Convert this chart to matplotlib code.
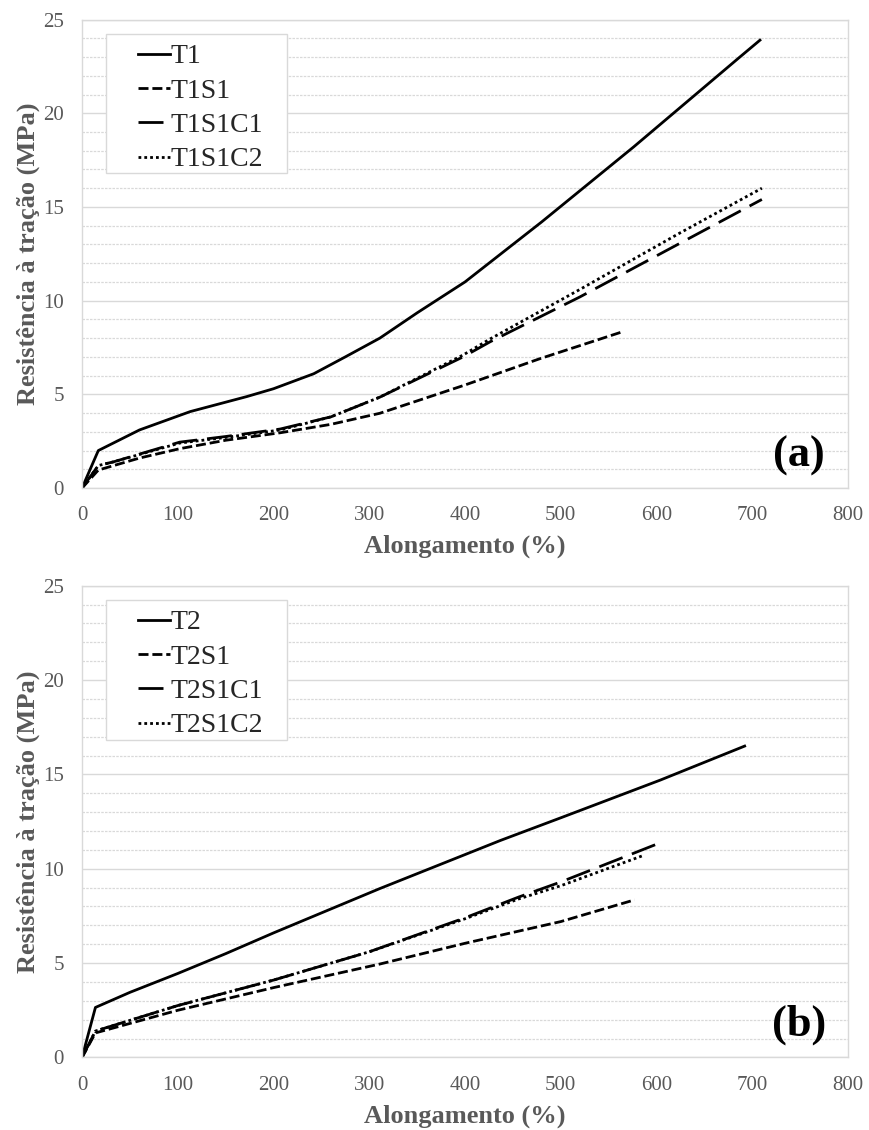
import matplotlib
matplotlib.use("Agg")
import matplotlib.pyplot as plt
from matplotlib.patches import Rectangle
from matplotlib.ticker import MultipleLocator

plt.rcParams['font.family'] = ['Liberation Serif', 'DejaVu Serif']

# ---------- data (a) ----------
t1_x = [0, 17, 60, 113, 172, 200, 242, 275, 311, 350, 400, 430, 480, 576, 687, 708]
t1_y = [0, 2.0, 3.1, 4.08, 4.88, 5.3, 6.1, 7.0, 8.0, 9.35, 11.0, 12.2, 14.2, 18.2, 23.0, 23.9]

t1s1_x = [0, 17, 60, 102, 150, 207, 260, 311, 400, 478, 565]
t1s1_y = [0, 0.96, 1.6, 2.1, 2.55, 2.95, 3.4, 3.99, 5.5, 6.9, 8.35]

t1s1c1_x = [0, 17, 33, 102, 150, 207, 260, 311, 398, 426, 520, 624, 710]
t1s1c1_y = [0, 1.2, 1.4, 2.45, 2.75, 3.15, 3.8, 4.85, 7.0, 7.8, 10.2, 13.05, 15.4]

t1s1c2_x = [0, 17, 33, 102, 150, 207, 260, 311, 398, 426, 520, 624, 710]
t1s1c2_y = [0, 1.2, 1.4, 2.4, 2.7, 3.1, 3.8, 4.85, 7.1, 7.95, 10.6, 13.6, 16.0]

# ---------- data (b) ----------
t2_x = [0, 14, 50, 100, 150, 200, 311, 437, 500, 604, 692]
t2_y = [0, 2.65, 3.45, 4.45, 5.5, 6.6, 8.95, 11.5, 12.7, 14.7, 16.5]

t2s1_x = [0, 14, 100, 200, 311, 400, 500, 577]
t2s1_y = [0, 1.3, 2.5, 3.7, 4.95, 6.05, 7.2, 8.35]

t2s1c1_x = [0, 14, 100, 200, 300, 400, 456, 500, 600]
t2s1c1_y = [0, 1.4, 2.75, 4.1, 5.6, 7.4, 8.5, 9.3, 11.3]

t2s1c2_x = [0, 14, 100, 200, 300, 400, 456, 500, 586]
t2s1c2_y = [0, 1.4, 2.75, 4.1, 5.6, 7.35, 8.4, 9.1, 10.7]

xticks = [0, 100, 200, 300, 400, 500, 600, 700, 800]
yticks = [0, 5, 10, 15, 20, 25]

grey = '#595959'
grid_c = '#d9d9d9'

styles = [
    dict(linestyle='-'),
    dict(linestyle=(0, (3.6, 1.4))),
    dict(linestyle=(0, (9, 3.6))),
    dict(linestyle=(0, (1, 1.1))),
]

fig = plt.figure(figsize=(8.69, 11.30), dpi=100)
ax1 = fig.add_axes([0.0944, 0.5681, 0.8815, 0.4146])
ax2 = fig.add_axes([0.0944, 0.0642, 0.8815, 0.4175])


def draw(ax, series, labels, tag):
    for (x, y), lab, st in zip(series, labels, styles):
        ax.plot(x, y, color='black', lw=2, label=lab, **st)
    ax.set_xlim(0, 800)
    ax.set_ylim(0, 25)
    ax.set_xticks(xticks)
    ax.set_yticks(yticks)
    ax.yaxis.set_minor_locator(MultipleLocator(1))
    ax.grid(which='major', axis='y', color=grid_c, lw=1)
    ax.grid(which='minor', axis='y', color=grid_c, lw=0.9, linestyle=(0, (2, 1)))
    ax.set_axisbelow(True)
    for s in ax.spines.values():
        s.set_color(grid_c)
        s.set_linewidth(1)
    ax.tick_params(which='both', length=0, labelsize=15, colors=grey)
    ax.tick_params(axis='y', pad=13)
    ax.tick_params(axis='x', pad=13)
    ax.set_xlabel('Alongamento (%)', fontsize=19, fontweight='bold', color=grey, labelpad=7)
    ax.set_ylabel('Resistência à tração (MPa)', fontsize=19, fontweight='bold', color=grey, labelpad=2)
    ax.text(0.936, 0.069, tag, transform=ax.transAxes, fontsize=32, fontweight='bold',
            ha='center', va='center')
    ax.add_patch(Rectangle((0.031, 0.672), 0.237, 0.297, transform=ax.transAxes,
                           facecolor='white', edgecolor=grid_c, lw=1, zorder=3))
    leg = ax.legend(loc='upper left', bbox_to_anchor=(0.058, 0.972), frameon=False,
                    fontsize=20, handlelength=1.15, handletextpad=0.05,
                    labelspacing=0.32, borderaxespad=0)
    leg.set_zorder(4)
    for t in leg.get_texts():
        t.set_color('#262626')


draw(ax1, [(t1_x, t1_y), (t1s1_x, t1s1_y), (t1s1c1_x, t1s1c1_y), (t1s1c2_x, t1s1c2_y)],
     ['T1', 'T1S1', 'T1S1C1', 'T1S1C2'], '(a)')
draw(ax2, [(t2_x, t2_y), (t2s1_x, t2s1_y), (t2s1c1_x, t2s1c1_y), (t2s1c2_x, t2s1c2_y)],
     ['T2', 'T2S1', 'T2S1C1', 'T2S1C2'], '(b)')

fig.savefig('out.png', dpi=100)
